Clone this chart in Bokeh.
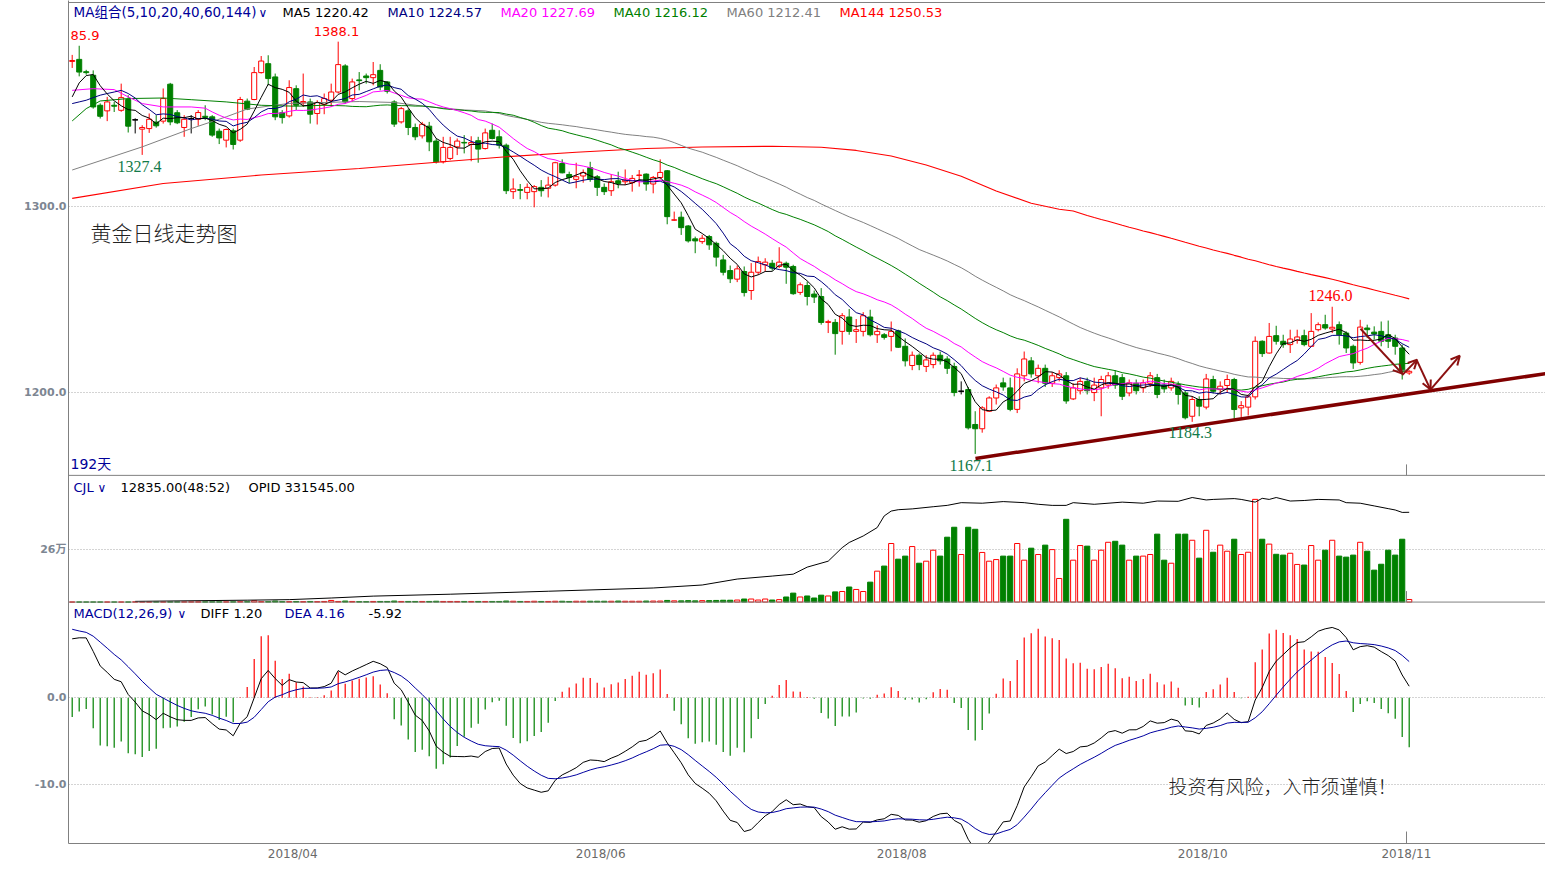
import numpy as np
import pandas as pd
from bokeh.plotting import figure
from bokeh.models import (Range1d, FixedTicker, Label, Arrow, OpenHead,
                          ColumnDataSource, Span)
from bokeh.embed import file_html
from bokeh.resources import INLINE

# ---------------------------------------------------------------- data
opens = [
    1377.5, 1378.6, 1372.0, 1370.1, 1354.0, 1351.0, 1354.0, 1351.3, 1357.1, 1346.2,
    1341.2, 1341.5, 1345.0, 1345.5, 1365.3, 1350.0, 1342.1, 1346.9, 1346.5, 1348.1,
    1347.8, 1340.1, 1335.3, 1340.3, 1335.3, 1356.2, 1357.1, 1371.5, 1376.3, 1369.2,
    1350.0, 1348.3, 1362.9, 1355.3, 1355.8, 1349.6, 1354.5, 1356.7, 1361.1, 1375.1,
    1357.6, 1367.6, 1369.7, 1368.8, 1372.7, 1366.5, 1355.8, 1345.1, 1351.0, 1342.1,
    1337.6, 1342.8, 1334.8, 1323.7, 1325.5, 1331.7, 1334.1, 1333.0, 1335.0, 1330.8,
    1340.6, 1337.1, 1332.6, 1307.7, 1308.8, 1307.3, 1307.7, 1310.0, 1309.5, 1311.2,
    1322.8, 1316.9, 1314.3, 1316.1, 1320.5, 1315.7, 1310.0, 1308.2, 1313.5, 1313.0,
    1312.5, 1316.4, 1317.1, 1311.8, 1315.3, 1318.9, 1292.4, 1294.0, 1289.3, 1282.4,
    1280.9, 1283.6, 1280.0, 1271.1, 1265.4, 1260.8, 1264.9, 1254.7, 1264.5, 1268.5,
    1269.3, 1267.6, 1269.3, 1267.6, 1253.7, 1257.4, 1252.8, 1251.5, 1237.6, 1237.6,
    1232.8, 1240.5, 1232.8, 1232.8, 1240.5, 1231.0, 1231.0, 1230.1, 1233.1, 1224.8,
    1214.5, 1220.0, 1214.0, 1215.0, 1220.0, 1218.0, 1214.0, 1200.7, 1201.6, 1182.9,
    1180.6, 1190.0, 1197.1, 1205.2, 1202.5, 1191.0, 1209.0, 1217.0, 1209.0, 1213.0,
    1205.0, 1208.0, 1209.0, 1196.6, 1201.0, 1206.0, 1200.0, 1202.5, 1204.0, 1209.0,
    1208.0, 1199.8, 1205.0, 1202.5, 1205.0, 1208.0, 1204.0, 1202.5, 1204.3, 1199.8,
    1187.3, 1196.3, 1192.2, 1207.0, 1201.6, 1203.8, 1207.0, 1191.8, 1192.2, 1197.7,
    1227.5, 1221.2, 1230.5, 1227.5, 1225.7, 1228.0, 1230.5, 1224.8, 1233.7, 1236.4,
    1234.1, 1236.4, 1231.9, 1224.8, 1216.2, 1234.6, 1232.4, 1232.8, 1231.0, 1229.2,
    1223.9, 1210.5]
highs = [
    1381.0, 1385.9, 1373.0, 1372.7, 1355.0, 1358.5, 1355.8, 1365.6, 1359.4, 1347.0,
    1343.3, 1349.6, 1348.7, 1363.0, 1366.0, 1351.4, 1348.7, 1348.7, 1351.4, 1354.0,
    1348.7, 1341.5, 1341.5, 1341.5, 1358.5, 1357.6, 1374.5, 1380.4, 1380.8, 1371.0,
    1351.4, 1367.4, 1364.7, 1371.0, 1357.6, 1356.7, 1360.3, 1365.6, 1388.1, 1376.0,
    1368.3, 1371.8, 1371.0, 1377.2, 1376.0, 1367.0, 1356.7, 1353.1, 1352.2, 1344.2,
    1345.1, 1345.1, 1336.2, 1337.1, 1337.1, 1336.2, 1338.0, 1337.4, 1337.1, 1341.5,
    1344.2, 1340.6, 1333.5, 1314.8, 1311.8, 1312.1, 1311.2, 1313.9, 1315.7, 1323.7,
    1325.0, 1318.4, 1323.2, 1319.6, 1323.7, 1316.6, 1312.1, 1317.1, 1318.4, 1319.6,
    1316.6, 1319.3, 1317.5, 1316.1, 1325.0, 1319.3, 1297.0, 1297.0, 1289.8, 1283.6,
    1284.5, 1284.5, 1280.9, 1273.8, 1268.1, 1268.1, 1267.6, 1269.4, 1272.9, 1272.0,
    1271.1, 1277.9, 1270.2, 1268.5, 1259.0, 1259.5, 1254.7, 1256.0, 1239.0, 1239.4,
    1242.6, 1244.8, 1239.4, 1243.1, 1244.4, 1236.0, 1231.9, 1238.1, 1233.7, 1229.0,
    1222.0, 1221.0, 1220.0, 1221.5, 1222.0, 1219.5, 1216.0, 1206.0, 1203.0, 1190.0,
    1192.7, 1198.0, 1204.3, 1208.0, 1208.0, 1213.0, 1222.0, 1219.0, 1215.0, 1215.0,
    1211.0, 1212.0, 1211.0, 1205.0, 1208.0, 1208.0, 1208.0, 1209.0, 1211.0, 1212.0,
    1210.0, 1207.0, 1207.0, 1207.0, 1211.0, 1210.0, 1207.0, 1208.0, 1206.0, 1201.0,
    1198.0, 1198.0, 1210.0, 1209.0, 1206.0, 1209.6, 1207.9, 1195.4, 1198.9, 1230.1,
    1228.0, 1237.3, 1235.8, 1231.0, 1233.7, 1233.7, 1233.7, 1242.6, 1237.6, 1241.7,
    1246.0, 1238.1, 1232.8, 1225.7, 1239.0, 1236.4, 1235.5, 1238.1, 1238.6, 1231.0,
    1225.7, 1212.0]
lows = [
    1374.0, 1369.5, 1370.4, 1352.2, 1346.9, 1345.5, 1350.4, 1350.5, 1339.4, 1338.9,
    1327.4, 1339.2, 1342.0, 1344.2, 1343.3, 1343.9, 1337.1, 1338.9, 1343.0, 1346.0,
    1337.1, 1333.2, 1331.4, 1330.3, 1334.4, 1351.4, 1356.7, 1371.0, 1364.7, 1346.0,
    1344.2, 1347.4, 1351.4, 1353.1, 1344.2, 1343.7, 1349.2, 1353.1, 1360.3, 1354.9,
    1355.8, 1362.0, 1365.6, 1364.7, 1362.0, 1360.3, 1342.4, 1344.2, 1338.0, 1335.3,
    1336.2, 1329.4, 1322.8, 1322.8, 1324.6, 1327.3, 1328.2, 1324.0, 1323.2, 1330.3,
    1335.7, 1330.8, 1306.4, 1303.8, 1303.6, 1303.6, 1299.3, 1305.0, 1304.6, 1310.4,
    1317.5, 1312.1, 1309.5, 1312.5, 1313.0, 1305.4, 1305.9, 1305.4, 1309.5, 1311.2,
    1307.7, 1310.4, 1308.2, 1306.8, 1314.3, 1290.2, 1292.0, 1284.5, 1280.4, 1274.7,
    1279.7, 1276.5, 1267.6, 1262.8, 1258.7, 1259.2, 1251.5, 1249.7, 1263.1, 1264.9,
    1265.4, 1266.7, 1258.3, 1252.4, 1252.4, 1246.7, 1248.0, 1236.4, 1231.9, 1220.3,
    1225.7, 1231.0, 1226.6, 1230.1, 1230.1, 1226.6, 1228.4, 1222.1, 1223.9, 1214.0,
    1212.0, 1212.0, 1211.0, 1213.0, 1215.0, 1210.0, 1198.0, 1199.0, 1180.2, 1167.1,
    1178.5, 1189.7, 1193.6, 1201.0, 1190.0, 1189.0, 1206.0, 1208.0, 1205.0, 1203.0,
    1203.0, 1206.0, 1194.0, 1196.0, 1199.0, 1199.0, 1195.4, 1187.3, 1202.0, 1202.0,
    1196.0, 1198.0, 1199.0, 1200.0, 1203.0, 1197.0, 1200.0, 1201.0, 1193.6, 1185.6,
    1184.3, 1187.3, 1191.0, 1199.5, 1199.0, 1199.8, 1185.6, 1185.9, 1187.7, 1196.3,
    1219.1, 1220.9, 1225.7, 1224.0, 1221.2, 1226.2, 1224.8, 1224.6, 1232.8, 1233.7,
    1231.9, 1225.7, 1221.2, 1212.7, 1215.0, 1229.2, 1228.4, 1224.8, 1223.9, 1220.3,
    1207.0, 1209.5]
closes = [
    1378.0, 1371.8, 1371.5, 1353.1, 1348.1, 1355.8, 1353.5, 1358.1, 1342.8, 1346.2,
    1342.1, 1346.5, 1343.0, 1357.6, 1345.1, 1344.6, 1346.5, 1346.9, 1350.1, 1347.5,
    1338.0, 1336.5, 1341.0, 1333.0, 1357.1, 1351.9, 1371.5, 1377.7, 1368.3, 1347.8,
    1347.4, 1363.5, 1354.0, 1356.0, 1349.2, 1355.5, 1357.6, 1361.1, 1375.8, 1355.8,
    1366.5, 1367.2, 1368.8, 1370.4, 1363.8, 1361.5, 1343.9, 1352.2, 1342.1, 1337.1,
    1343.8, 1334.4, 1323.7, 1331.4, 1331.4, 1334.8, 1333.8, 1334.0, 1330.5, 1339.2,
    1336.2, 1332.6, 1308.2, 1309.1, 1308.4, 1310.0, 1310.4, 1308.2, 1311.2, 1323.2,
    1317.8, 1315.3, 1315.7, 1318.0, 1314.3, 1310.0, 1307.7, 1313.0, 1312.1, 1313.9,
    1314.8, 1316.6, 1311.8, 1315.3, 1318.0, 1294.3, 1292.6, 1288.4, 1281.3, 1281.3,
    1282.7, 1279.2, 1272.6, 1264.5, 1261.0, 1266.3, 1253.6, 1264.5, 1270.2, 1269.9,
    1266.7, 1269.9, 1267.2, 1253.0, 1257.8, 1251.5, 1251.2, 1237.6, 1238.0, 1231.6,
    1241.2, 1232.8, 1233.7, 1241.2, 1231.0, 1232.8, 1229.6, 1232.8, 1224.3, 1217.0,
    1220.0, 1215.0, 1217.5, 1220.0, 1217.0, 1213.0, 1200.0, 1200.7, 1181.1, 1180.6,
    1191.8, 1197.1, 1202.5, 1203.0, 1191.0, 1210.0, 1218.0, 1210.0, 1213.0, 1205.0,
    1209.0, 1210.0, 1195.5, 1202.5, 1206.0, 1201.0, 1204.0, 1207.0, 1209.0, 1204.0,
    1198.0, 1205.2, 1201.0, 1205.2, 1209.0, 1199.0, 1202.0, 1206.0, 1199.0, 1186.5,
    1196.3, 1192.7, 1207.3, 1200.7, 1203.4, 1207.0, 1190.9, 1193.0, 1197.7, 1227.5,
    1220.9, 1230.1, 1227.5, 1225.7, 1228.7, 1229.8, 1225.7, 1232.8, 1236.4, 1234.6,
    1235.0, 1231.0, 1223.9, 1215.9, 1235.1, 1233.7, 1231.4, 1227.5, 1227.5, 1224.8,
    1211.4, 1211.4]
# volume in 万 (10k contracts)
volumes_wan = [
    0, 0, 0, 0, 0, 0, 0, 0, 0, 0.1,
    0.1, 0.1, 0.1, 0.1, 0.1, 0.1, 0.1, 0.1, 0.1, 0.1,
    0.1, 0.1, 0.1, 0.1, 0.2, 0.2, 0.6, 0.2, 0.2, 0.5,
    0.2, 0.2, 0.3, 0.2, 0.3, 0.2, 0.3, 0.8, 0.3, 0.5,
    0.3, 0.2, 0.2, 0.3, 0.3, 0.3, 0.5, 0.3, 0.3, 0.3,
    0.3, 0.3, 0.4, 0.3, 0.3, 0.3, 0.3, 0.3, 0.3, 0.3,
    0.3, 0.3, 0.5, 0.4, 0.3, 0.3, 0.4, 0.3, 0.3, 0.4,
    0.4, 0.3, 0.4, 0.4, 0.4, 0.4, 0.4, 0.4, 0.5, 0.4,
    0.4, 0.4, 0.5, 0.5, 0.5, 0.8, 0.6, 0.6, 0.7, 0.6,
    0.7, 0.7, 0.8, 0.9, 0.9, 1.0, 1.5, 1.5, 1.0, 1.5,
    1.0, 1.2, 2.5, 4.4, 2.5, 3.0, 2.0, 3.4, 3.0, 5.0,
    5.2, 7.4, 6.2, 5.2, 9.8, 15.2, 17.7, 28.8, 21.1, 22.6,
    27.3, 19.1, 20.1, 25.5, 22.6, 31.9, 36.8, 23.4, 36.8, 35.8,
    24.4, 20.1, 20.9, 22.6, 22.6, 28.8, 20.6, 26.5, 23.4, 28.0,
    25.8, 11.6, 40.7, 20.6, 27.8, 27.5, 20.6, 25.5, 29.4, 29.9,
    28.0, 20.6, 22.6, 22.6, 23.4, 33.4, 20.6, 19.1, 33.4, 33.4,
    30.4, 21.6, 35.3, 24.5, 28.0, 25.0, 30.9, 23.4, 24.5, 50.5,
    30.9, 28.5, 23.5, 23.1, 24.0, 18.5, 18.2, 27.8, 20.6, 25.5,
    30.4, 22.6, 22.1, 23.1, 29.4, 25.0, 15.7, 18.6, 25.5, 23.1,
    30.9, 1.28]
# open interest (万), read at these candle indices
oi_idx = [9, 25, 31, 37, 43, 54, 68, 83, 90, 95, 100, 103, 105, 108, 110, 111, 113,
          115, 116, 117, 118, 120, 123, 125, 127, 130, 133, 136, 138, 140, 142, 143,
          146, 150, 153, 155, 158, 160, 162, 163, 166, 167, 169, 170, 171, 172, 174,
          176, 178, 181, 182, 184, 186, 188, 189, 190, 191]
oi_wan = [0.26, 0.7, 0.9, 1.5, 2.2, 2.9, 4.0, 5.2, 6.3, 8.5, 9.6, 10.3, 12.9, 15.1,
          20.1, 22.0, 24.4, 27.5, 31.8, 33.6, 34.1, 34.4, 35.2, 35.7, 36.7, 36.5,
          37.1, 36.7, 36.1, 35.7, 35.7, 36.7, 36.1, 36.9, 36.5, 37.3, 37.2, 38.6,
          37.7, 37.9, 38.2, 37.9, 36.9, 38.3, 37.9, 38.6, 37.3, 37.5, 37.9, 37.7,
          36.7, 36.5, 35.5, 34.5, 34.0, 33.1, 33.15]
# moving-average values read before enough candles exist to average
ma5_head_idx = [0, 1, 2, 3]
ma5_head = [1358.5, 1366.0, 1369.9, 1370.5]
ma10_head_idx = [0, 1, 2, 3, 4, 5, 6, 7, 8]
ma10_head = [1354.9, 1355.8, 1356.7, 1358.1, 1359.4, 1360.3, 1361.1, 1362.0, 1360.3]
ma20_head_idx = [0, 3, 6, 8, 10, 13, 17]
ma20_head = [1362.0, 1362.9, 1362.4, 1358.5, 1354.9, 1353.1, 1353.1]
ma40_head_idx = [0, 2, 4, 8, 13, 17, 22, 27, 32, 36]
ma40_head = [1345.6, 1352.2, 1356.3, 1357.6, 1357.9, 1357.0, 1355.8, 1354.0, 1353.5, 1354.0]
ma60_head_idx = [0, 5, 10, 17, 22, 25, 31, 41, 46, 51, 56]
ma60_head = [1319.3, 1325.5, 1331.7, 1341.5, 1347.8, 1352.0, 1355.0, 1356.0, 1355.5, 1353.1, 1351.5]
ma144_head_idx = [0, 13, 27, 41, 53, 62, 72, 82, 90, 100, 107, 112, 117, 122, 127, 132, 137, 141]
ma144_head = [1304.1, 1312.1, 1316.6, 1320.1, 1323.7, 1326.4, 1328.8, 1330.8, 1331.6, 1332.0,
              1331.5, 1329.8, 1326.8, 1322.0, 1316.0, 1308.0, 1301.5, 1298.3]
# MACD state read at the first candle
EMA12_START, EMA26_START, DEA_START = 1364.0, 1357.2, 7.9

month_ticks = [31.5, 75.5, 118.5, 161.5, 190.6]
month_labels = ["2018/04", "2018/06", "2018/08", "2018/10", "2018/11"]
price_ticks = [1300.0, 1200.0]
vol_tick = 26.0
macd_ticks = [0.0, -10.0]

legend_ma = [("MA5 1220.42", 282, "#000000"), ("MA10 1224.57", 387, "#000080"),
             ("MA20 1227.69", 500, "#ff00ff"), ("MA40 1216.12", 613, "#008000"),
             ("MA60 1212.41", 726, "#808080"), ("MA144 1250.53", 839, "#ff0000")]
trend_x = [129.04, 212.76]
trend_y = [1164.7, 1211.4]

# ---------------------------------------------------------------- geometry (reference pixels -> data)
def ix(px):
    return (px - 71.7) / 7.0

def pr(py):
    return 1300.0 - (py - 206.0) / 1.87

def vo(py):
    return (603.0 - py) * 26.0 / 53.0

def oi(py):
    return (603.0 - py) * 33.15 / 90.0

def mc(py):
    return (699.0 - py) / 8.7

def vol_to_py(v):
    return 603.0 - v * 53.0 / 26.0

def macd_to_py(m):
    return 699.0 - m * 8.7

FT, FB, FL, FR = 0.0, 845.0, 68.0, 1545.0

RED, GREEN, BLACK, NAVY = "#ff0000", "#008000", "#000000", "#000080"
SANS = "DejaVu Sans, Noto Sans CJK SC"
SERIF = "Liberation Serif"
CJK = "Noto Sans CJK SC Light, Noto Sans CJK SC"

p = figure(width=1545, height=863, output_backend="svg", toolbar_location=None,
           title=None, x_range=Range1d(ix(FL), ix(FR)),
           y_range=Range1d(pr(FB), pr(FT)))
p.min_border_left = 68
p.min_border_right = 0
p.min_border_top = 0
p.min_border_bottom = 18
p.outline_line_color = None
p.background_fill_color = "white"
p.border_fill_color = "white"
p.extra_y_ranges = {"vol": Range1d(vo(FB), vo(FT)), "oi": Range1d(oi(FB), oi(FT)),
                    "macd": Range1d(mc(FB), mc(FT))}

# axes
ytick_vals = [round(v, 3) for v in price_ticks] + [round(pr(vol_to_py(vol_tick)), 3)] + \
             [round(pr(macd_to_py(m)), 3) for m in macd_ticks]
ytick_text = ["%.1f" % v for v in price_ticks] + ["%d万" % vol_tick] + ["%.1f" % m for m in macd_ticks]
p.yaxis.ticker = FixedTicker(ticks=ytick_vals)
p.yaxis.major_label_overrides = dict(zip(ytick_vals, ytick_text))
p.yaxis.axis_line_color = "#808080"
p.yaxis.major_tick_line_color = None
p.yaxis.minor_tick_line_color = None
p.yaxis.major_tick_out = 0
p.yaxis.major_label_standoff = 2
p.yaxis.major_label_text_font = "DejaVu Sans, Noto Sans CJK SC"
p.yaxis.major_label_text_font_style = "bold"
p.yaxis.major_label_text_font_size = "11px"
p.yaxis.major_label_text_color = "#7d8692"

p.xaxis.ticker = FixedTicker(ticks=month_ticks)
p.xaxis.major_label_overrides = dict(zip(month_ticks, month_labels))
p.xaxis.axis_line_color = "#808080"
p.xaxis.major_tick_line_color = None
p.xaxis.minor_tick_line_color = None
p.xaxis.major_tick_out = 0
p.xaxis.major_tick_in = 0
p.xaxis.major_label_standoff = 3
p.xaxis.major_label_text_font = "DejaVu Sans"
p.xaxis.major_label_text_font_size = "12px"
p.xaxis.major_label_text_color = "#6a6a6a"

p.xgrid.visible = False
p.ygrid.ticker = FixedTicker(ticks=ytick_vals)
p.ygrid.grid_line_color = "#a8a8a8"
p.ygrid.grid_line_dash = "1 2"
p.ygrid.grid_line_width = 1

for py in (2.0, 476.0, 603.0):
    p.add_layout(Span(location=pr(py), dimension="width", line_color="#808080", line_width=1))

# ---------------------------------------------------------------- candles
N = len(closes)
x = np.arange(N)
O = np.array(opens); Hh = np.array(highs); L = np.array(lows); C = np.array(closes)
col = np.where(C > O, RED, np.where(C < O, GREEN, BLACK))
fill = np.where(C < O, GREEN, "white")
src = ColumnDataSource(dict(x=x, h=Hh, l=L, top=np.maximum(O, C), bot=np.minimum(O, C),
                            col=col, fill=fill))
p.segment(x0="x", y0="h", x1="x", y1="l", line_color="col", line_width=1, source=src)
p.vbar(x="x", width=0.72, top="top", bottom="bot", fill_color="fill", line_color="col",
       line_width=1, source=src)
flat = C == O
p.segment(x0=x[flat] - 0.4, y0=O[flat], x1=x[flat] + 0.4, y1=O[flat], line_color=BLACK, line_width=1)

# moving averages
cs = pd.Series(C)
def ma_line(n, head_idx, head_vals):
    full = cs.rolling(n).mean().to_numpy()
    xs = list(head_idx) + list(range(n - 1, N))
    ys = list(head_vals) + list(full[n - 1:])
    return xs, ys

for n, hi, hv, c in [(144, ma144_head_idx, ma144_head, "#ff0000"),
                     (60, ma60_head_idx, ma60_head, "#808080"),
                     (40, ma40_head_idx, ma40_head, "#008000"),
                     (20, ma20_head_idx, ma20_head, "#ff00ff"),
                     (10, ma10_head_idx, ma10_head, "#000080"),
                     (5, ma5_head_idx, ma5_head, "#000000")]:
    xs, ys = ma_line(n, hi, hv)
    p.line(xs, ys, line_color=c, line_width=1.1 if n == 144 else 1)

# trend line and arrows
p.line(trend_x, trend_y, line_color="#800000", line_width=3.5)
AR = "#8b1010"
for (x0, y0, x1, y1) in [(1360, 329, 1401.7, 374), (1401.7, 375.5, 1416.7, 360),
                         (1416.7, 361.5, 1430, 390), (1430, 390, 1459.3, 356)]:
    p.add_layout(Arrow(end=OpenHead(size=9, line_color=AR, line_width=2),
                       x_start=ix(x0), y_start=pr(y0), x_end=ix(x1), y_end=pr(y1),
                       line_color=AR, line_width=2))

# ---------------------------------------------------------------- volume + open interest
V = np.array(volumes_wan)
vcol = np.where(C >= O, RED, GREEN)
vfill = np.where(C >= O, "white", GREEN)
vsrc = ColumnDataSource(dict(x=x, v=V, col=vcol, fill=vfill))
p.vbar(x="x", width=0.74, top="v", bottom=0, fill_color="fill", line_color="col",
       line_width=1, source=vsrc, y_range_name="vol")
p.line(oi_idx, oi_wan, line_color="black", line_width=1, y_range_name="oi")

# ---------------------------------------------------------------- MACD
ema12 = np.empty(N); ema26 = np.empty(N); dea = np.empty(N)
ema12[0], ema26[0] = EMA12_START, EMA26_START
for t in range(1, N):
    ema12[t] = ema12[t - 1] + 2.0 / 13.0 * (C[t] - ema12[t - 1])
    ema26[t] = ema26[t - 1] + 2.0 / 27.0 * (C[t] - ema26[t - 1])
diff = ema12 - ema26
dea[0] = DEA_START
for t in range(1, N):
    dea[t] = dea[t - 1] + 0.2 * (diff[t] - dea[t - 1])
hist = 2.0 * (diff - dea)
hcol = np.where(hist >= 0, RED, GREEN)
p.segment(x0=x, y0=np.zeros(N), x1=x, y1=hist, line_color=list(hcol), line_width=1.2,
          y_range_name="macd")
p.line(x, diff, line_color="black", line_width=1, y_range_name="macd")
p.line(x, dea, line_color="#0000a0", line_width=1, y_range_name="macd")

# cursor marks at the last bar
for (ya, yb) in [(465, 476), (592, 603), (833, 845)]:
    p.segment(x0=[ix(1406)], y0=[pr(ya)], x1=[ix(1406)], y1=[pr(yb)], line_color="#808080", line_width=1)

# ---------------------------------------------------------------- texts
def lab(text, px, py, color, size=13, font=SANS, align="left"):
    p.add_layout(Label(x=ix(px), y=pr(py), text=text, text_color=color, text_font=font,
                       text_font_size="%gpx" % size, text_align=align, text_baseline="middle"))

lab("MA组合(5,10,20,40,60,144)", 73, 12, "#000099", 13.5)
lab("∨", 258, 13, "#000099", 12)
for t, px, c in legend_ma:
    lab(t, px, 12, c)
lab("CJL", 73, 488, "#000099")
lab("∨", 97, 489, "#000099", 12)
lab("12835.00(48:52)", 120, 488, BLACK)
lab("OPID 331545.00", 248, 488, BLACK)
lab("MACD(12,26,9)", 73, 614, "#000099")
lab("∨", 177, 615, "#000099", 12)
lab("DIFF 1.20", 200, 614, BLACK)
lab("DEA 4.16", 284, 614, "#000099")
lab("-5.92", 368, 614, BLACK)
lab("192天", 70, 465, "#000099", 14)

lab("85.9", 70, 35, RED)
lab("%.1f" % highs[38], 336, 31, RED, align="center")
lab("%.1f" % lows[10], 117, 166, "#137a4a", 16, SERIF)
lab("%.1f" % lows[129], 949, 466, "#137a4a", 16, SERIF)
lab("%.1f" % lows[160], 1168, 433, "#137a4a", 16, SERIF)
lab("%.1f" % highs[180], 1308, 296, RED, 16, SERIF)

lab("黄金日线走势图", 90, 232, "#222222", 21, CJK)
lab("投资有风险，入市须谨慎！", 1168, 787, "#222222", 19, CJK)

open("out.html", "w").write(file_html(p, INLINE))
